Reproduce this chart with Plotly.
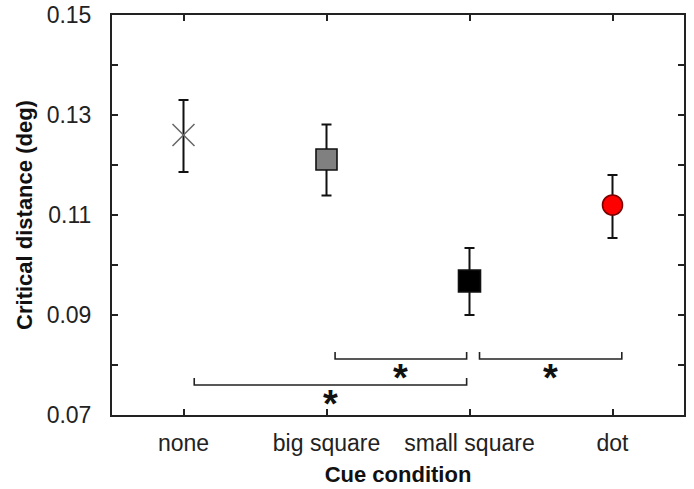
import plotly.graph_objects as go

conditions = ["none", "big square", "small square", "dot"]
means = [0.1260, 0.1211, 0.0968, 0.1120]
err_hi = [0.0070, 0.0070, 0.0066, 0.0060]
err_lo = [0.0074, 0.0072, 0.0068, 0.0066]

symbols = ["x-thin-open", "square", "square", "circle"]
fills = ["#666666", "#808080", "#000000", "#ff0000"]
edges = ["#555555", "#111111", "#111111", "#7a0000"]
sizes = [22, 21, 22, 20]

# significance brackets: (x start, x end, y level)
br_x0 = [1.06, 2.07, 0.075]
br_x1 = [1.98, 3.065, 1.98]
br_y = [0.0812, 0.0812, 0.0760]
star_y = [0.0787, 0.0787, 0.0734]
tick_h = 0.0014

font_family = "Liberation Sans, Arial, sans-serif"

fig = go.Figure()

for i, c in enumerate(conditions):
    fig.add_trace(go.Scatter(
        x=[i], y=[means[i]], mode="markers",
        marker=dict(symbol=symbols[i], size=sizes[i], color=fills[i],
                    line=dict(color=edges[i], width=1.5 if i == 0 else 1.6)),
        error_y=dict(type="data", array=[err_hi[i]], arrayminus=[err_lo[i]],
                     color="#111111", thickness=2, width=5),
        showlegend=False, hoverinfo="skip"
    ))

for x0, x1, y, sy in zip(br_x0, br_x1, br_y, star_y):
    fig.add_trace(go.Scatter(
        x=[x0, x0, x1, x1], y=[y + tick_h, y, y, y + tick_h],
        mode="lines", line=dict(color="#222222", width=1.6),
        showlegend=False, hoverinfo="skip"
    ))
    fig.add_annotation(x=(x0 + x1) / 2, y=sy, text="<b>*</b>", showarrow=False,
                       yanchor="middle", yshift=-6,
                       font=dict(family=font_family, size=38, color="#111111"))

fig.update_xaxes(
    range=[-0.5, 3.5], tickmode="array", tickvals=list(range(4)), ticktext=conditions,
    ticks="inside", ticklen=6, tickwidth=1.5, tickcolor="#222222",
    showline=True, linecolor="#222222", linewidth=2, mirror="ticks",
    showgrid=False, zeroline=False, ticklabelstandoff=6, automargin=False,
    tickfont=dict(family=font_family, size=23, color="#222222"),
    title=dict(text="Cue condition", standoff=12,
               font=dict(family=font_family, size=22, color="#111111", weight="bold"))
)
fig.update_yaxes(
    range=[0.07, 0.15], tickmode="array", tickvals=[0.07, 0.09, 0.11, 0.13, 0.15],
    ticktext=["0.07", "0.09", "0.11", "0.13", "0.15"],
    ticks="inside", ticklen=6, tickwidth=1.5, tickcolor="#222222",
    minor=dict(tickvals=[0.08, 0.10, 0.12, 0.14], ticks="inside", ticklen=6,
               tickwidth=1.5, tickcolor="#222222"),
    showline=True, linecolor="#222222", linewidth=2, mirror="ticks",
    showgrid=False, zeroline=False, ticklabelstandoff=14, automargin=False,
    tickfont=dict(family=font_family, size=23, color="#222222"),
    title=dict(text="Critical distance (deg)", standoff=8,
               font=dict(family=font_family, size=22, color="#111111", weight="bold"))
)
fig.update_layout(
    width=694, height=489,
    margin=dict(l=112, r=10, t=15, b=74, autoexpand=False),
    plot_bgcolor="white", paper_bgcolor="white",
)
fig.write_html("out.html", config={"displayModeBar": False},
               post_script="document.body.style.margin='0';")
